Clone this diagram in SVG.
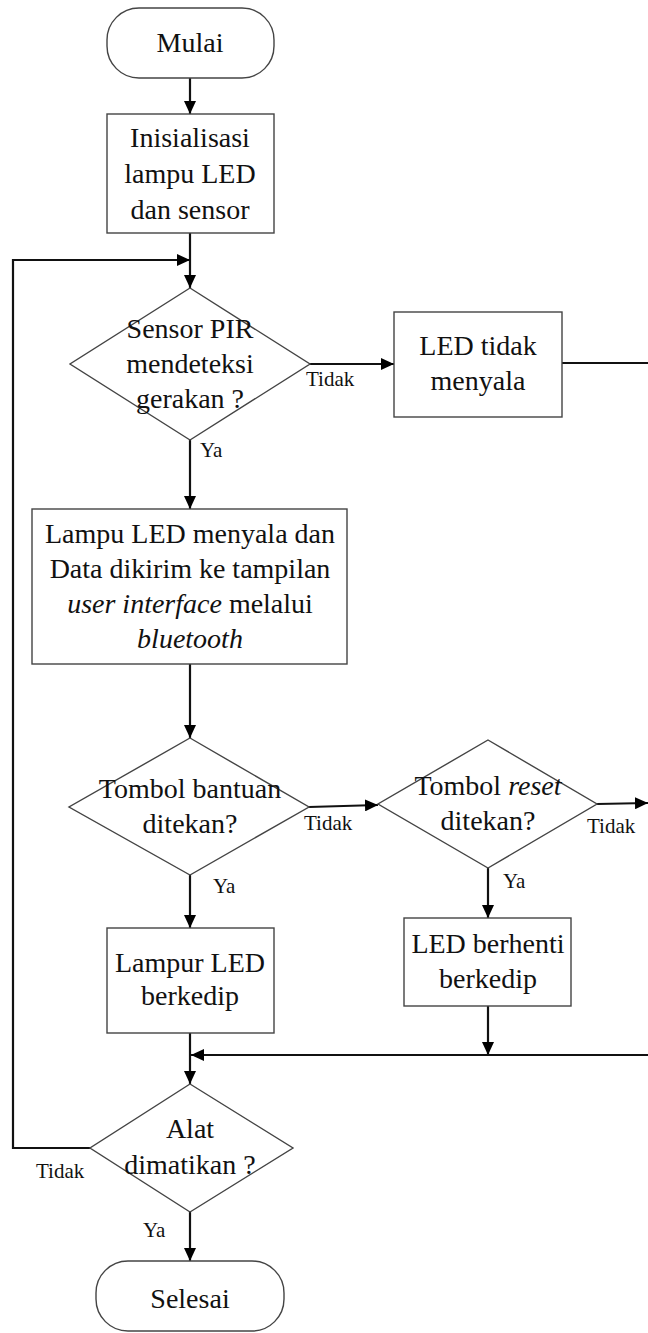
<svg xmlns="http://www.w3.org/2000/svg" width="648" height="1333" viewBox="0 0 648 1333" font-family="'Liberation Serif', 'Times New Roman', serif">
<defs>
<marker id="ah" markerUnits="userSpaceOnUse" markerWidth="14" markerHeight="12" refX="13" refY="6" orient="auto">
<path d="M0,0 L13,6 L0,12 z" fill="#000"/>
</marker>
<style>
.s{fill:#fff;stroke:#444;stroke-width:1.4}
.c{fill:none;stroke:#111;stroke-width:2.2}
.a{marker-end:url(#ah)}
.t{font-family:'Liberation Serif','Times New Roman',serif;font-size:28px;text-anchor:middle;fill:#111}
.l{font-family:'Liberation Serif','Times New Roman',serif;font-size:21px;fill:#111}
.i{font-style:italic}
</style>
</defs>
<rect width="648" height="1333" fill="#fff"/>
<g id="connectors">
<line class="c a" x1="190" y1="78" x2="190" y2="114"/>
<line class="c a" x1="190" y1="233" x2="190" y2="288"/>
<polyline class="c a" points="90,1148 13,1148 13,260 190,260"/>
<line class="c a" x1="310" y1="364" x2="394" y2="364"/>
<line class="c" x1="562" y1="363" x2="648" y2="363"/>
<line class="c a" x1="190" y1="440" x2="190" y2="509"/>
<line class="c a" x1="190" y1="664" x2="190" y2="738"/>
<line class="c a" x1="309" y1="807" x2="378" y2="805"/>
<line class="c a" x1="597" y1="804" x2="648" y2="803"/>
<line class="c a" x1="190" y1="875" x2="190" y2="928"/>
<line class="c a" x1="488" y1="868" x2="488" y2="918"/>
<line class="c a" x1="488" y1="1006" x2="488" y2="1055"/>
<line class="c a" x1="648" y1="1055" x2="191" y2="1055"/>
<line class="c a" x1="190" y1="1033" x2="190" y2="1084"/>
<line class="c a" x1="190" y1="1212" x2="190" y2="1261"/>
</g>
<g id="mulai">
<rect class="s" x="107" y="8" width="167" height="70" rx="32"/>
<text class="t" x="190" y="52">Mulai</text>
</g>
<g id="inisialisasi">
<rect class="s" x="107" y="114" width="167" height="119"/>
<text class="t" x="190" y="147">Inisialisasi</text>
<text class="t" x="190" y="183">lampu LED</text>
<text class="t" x="190" y="219">dan sensor</text>
</g>
<g id="sensor-pir">
<polygon class="s" points="190,288 310,364 190,440 70,364"/>
<text class="t" x="190" y="338">Sensor PIR</text>
<text class="t" x="190" y="373">mendeteksi</text>
<text class="t" x="190" y="408">gerakan ?</text>
<text class="l" x="306" y="386">Tidak</text>
<text class="l" x="200" y="457">Ya</text>
</g>
<g id="led-tidak">
<rect class="s" x="394" y="312" width="168" height="105"/>
<text class="t" x="478" y="355">LED tidak</text>
<text class="t" x="478" y="390">menyala</text>
</g>
<g id="lampu-menyala">
<rect class="s" x="32" y="509" width="315" height="155"/>
<text class="t" x="190" y="543">Lampu LED menyala dan</text>
<text class="t" x="190" y="578">Data dikirim ke tampilan</text>
<text class="t" x="190" y="613"><tspan class="i">user interface</tspan> melalui</text>
<text class="t i" x="190" y="648">bluetooth</text>
</g>
<g id="tombol-bantuan">
<polygon class="s" points="190,738 309,807 190,875 69,807"/>
<text class="t" x="190" y="798">Tombol bantuan</text>
<text class="t" x="190" y="833">ditekan?</text>
<text class="l" x="304" y="830">Tidak</text>
<text class="l" x="213" y="893">Ya</text>
</g>
<g id="tombol-reset">
<polygon class="s" points="488,740 597,804 488,868 378,804"/>
<text class="t" x="488" y="795">Tombol <tspan class="i">reset</tspan></text>
<text class="t" x="488" y="830">ditekan?</text>
<text class="l" x="587" y="833">Tidak</text>
<text class="l" x="503" y="888">Ya</text>
</g>
<g id="lampur-berkedip">
<rect class="s" x="107" y="928" width="167" height="105"/>
<text class="t" x="190" y="972">Lampur LED</text>
<text class="t" x="190" y="1005">berkedip</text>
</g>
<g id="led-berhenti">
<rect class="s" x="404" y="918" width="167" height="88"/>
<text class="t" x="488" y="953">LED berhenti</text>
<text class="t" x="488" y="988">berkedip</text>
</g>
<g id="alat-dimatikan">
<polygon class="s" points="190,1084 293,1148 190,1212 90,1148"/>
<text class="t" x="190" y="1138">Alat</text>
<text class="t" x="190" y="1174">dimatikan ?</text>
<text class="l" x="36" y="1178">Tidak</text>
<text class="l" x="143" y="1237">Ya</text>
</g>
<g id="selesai">
<rect class="s" x="96" y="1261" width="188" height="70" rx="32"/>
<text class="t" x="190" y="1308">Selesai</text>
</g>
</svg>
